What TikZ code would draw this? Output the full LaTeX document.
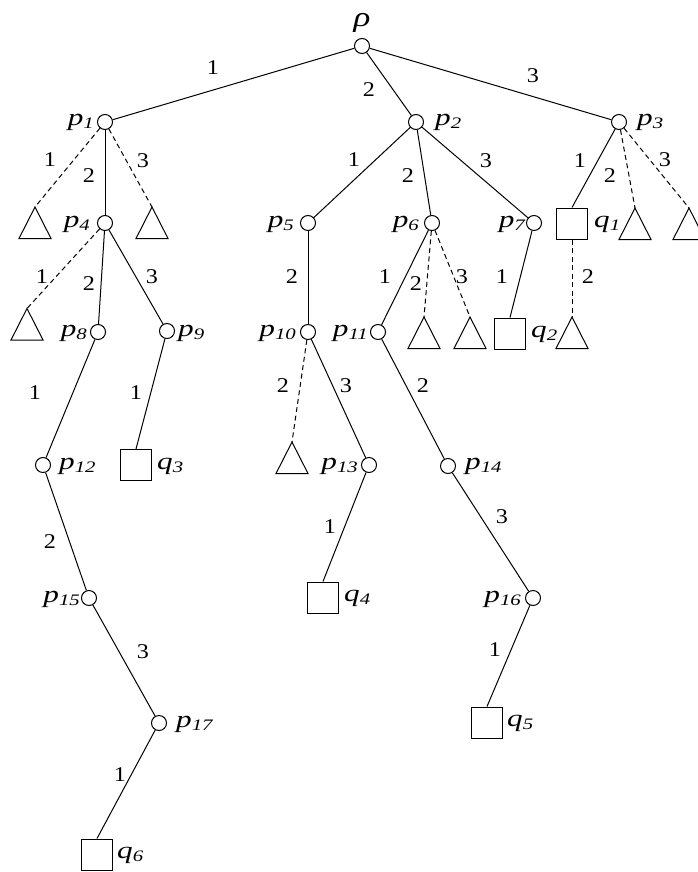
\documentclass[tikz,border=0pt]{standalone}
\usepackage{graphicx}
\usepackage{fontspec}
\setmainfont{Liberation Serif}
\newcommand\plab[2]{\scalebox{1.3}[1]{\itshape\fontsize{24}{24}\selectfont #1\raisebox{-3.5pt}{\fontsize{16}{16}\selectfont #2}}}
\newcommand\enum[1]{\scalebox{1.15}[1]{\fontsize{21}{21}\selectfont #1}}
\newcommand\mytri[3]{\coordinate (#1) at (#2,#3); \draw[shp] (#1) -- ++(-16,31.5) -- ++(32,0) -- cycle;}
\tikzset{
  shp/.style={line width=1pt, line join=miter},
  cnode/.style={circle, draw, line width=1pt, minimum size=15pt, inner sep=0pt},
  snode/.style={rectangle, draw, line width=1pt, minimum size=31pt, inner sep=0pt},
  edgeline/.style={line width=1pt},
  dedge/.style={line width=1pt, dash pattern=on 5pt off 3.5pt},
  elab/.style={inner sep=0pt},
  llab/.style={inner sep=0pt, anchor=base east},
  rlab/.style={inner sep=0pt, anchor=base west}
}
\begin{document}
\begin{tikzpicture}[x=1pt, y=-1pt]
\useasboundingbox (0,0) rectangle (697,872);
% circle nodes
\node[cnode] (rho) at (362,46) {};
\node[cnode] (p1) at (105,122) {};
\node[cnode] (p2) at (416,122) {};
\node[cnode] (p3) at (619,122) {};
\node[cnode] (p4) at (105,223) {};
\node[cnode] (p5) at (308,223) {};
\node[cnode] (p6) at (432,223) {};
\node[cnode] (p7) at (534,223) {};
\node[cnode] (p8) at (98,332) {};
\node[cnode] (p9) at (167,331) {};
\node[cnode] (p10) at (308,332) {};
\node[cnode] (p11) at (378,332) {};
\node[cnode] (p12) at (43,465) {};
\node[cnode] (p13) at (369,465) {};
\node[cnode] (p14) at (448,466) {};
\node[cnode] (p15) at (89,598) {};
\node[cnode] (p16) at (533,598) {};
\node[cnode] (p17) at (159,723) {};
% squares
\node[snode] (q1) at (572,223.5) {};
\node[snode] (q2) at (510,333.5) {};
\node[snode] (q3) at (136,465) {};
\node[snode] (q4) at (323,597.5) {};
\node[snode] (q5) at (487,722.5) {};
\node[snode] (q6) at (97,854.5) {};
% triangles
\mytri{t1}{35}{207}
\mytri{t2}{152}{207}
\mytri{t3}{27}{308.5}
\mytri{t4}{424}{317}
\mytri{t5}{470}{317}
\mytri{t6}{635}{208}
\mytri{t7}{689}{208}
\mytri{t8}{572}{317}
\mytri{t9}{292}{442}
% solid edges
\draw[edgeline] (rho) -- (p1);
\draw[edgeline] (rho) -- (p2);
\draw[edgeline] (rho) -- (p3);
\draw[edgeline] (p1) -- (p4);
\draw[edgeline] (p2) -- (p5);
\draw[edgeline] (p2) -- (p6);
\draw[edgeline] (p2) -- (p7);
\draw[edgeline] (p3) -- (q1.north);
\draw[edgeline] (p4) -- (p8);
\draw[edgeline] (p4) -- (p9);
\draw[edgeline] (p5) -- (p10);
\draw[edgeline] (p6) -- (p11);
\draw[edgeline] (p7) -- (q2.north);
\draw[edgeline] (p8) -- (p12);
\draw[edgeline] (p9) -- (q3.north);
\draw[edgeline] (p10) -- (p13);
\draw[edgeline] (p11) -- (p14);
\draw[edgeline] (p12) -- (p15);
\draw[edgeline] (p13) -- (q4.north);
\draw[edgeline] (p14) -- (p16);
\draw[edgeline] (p15) -- (p17);
\draw[edgeline] (p16) -- (q5.north);
\draw[edgeline] (p17) -- (q6.north);
% dashed edges
\draw[dedge] (p1) -- (t1);
\draw[dedge] (p1) -- (t2);
\draw[dedge] (p4) -- (t3);
\draw[dedge] (p6) -- (t4);
\draw[dedge] (p6) -- (t5);
\draw[dedge] (p3) -- (t6);
\draw[dedge] (p3) -- (t7);
\draw[dedge] (q1.south) -- (t8);
\draw[dedge] (p10) -- (t9);
% node labels
\node[inner sep=0pt, anchor=base] (Lrho) at (362,27) {\scalebox{1.25}[1]{\itshape\fontsize{28}{28}\selectfont ρ}};
\node[llab] (L1) at (94,125) {\plab{p}{1}};
\node[rlab] (L2) at (435,125) {\plab{p}{2}};
\node[rlab] (L3) at (637,125) {\plab{p}{3}};
\node[llab] (L4) at (90,227) {\plab{p}{4}};
\node[llab] (L5) at (294,227) {\plab{p}{5}};
\node[llab] (L6) at (419,227) {\plab{p}{6}};
\node[llab] (L7) at (525,227) {\plab{p}{7}};
\node[llab] (L8) at (87,336) {\plab{p}{8}};
\node[rlab] (L9) at (178,336) {\plab{p}{9}};
\node[llab] (L10) at (296,336) {\plab{p}{10}};
\node[llab] (L11) at (368,336) {\plab{p}{11}};
\node[rlab] (L12) at (59,469) {\plab{p}{12}};
\node[llab] (L13) at (358,469) {\plab{p}{13}};
\node[rlab] (L14) at (465,469) {\plab{p}{14}};
\node[llab] (L15) at (80,602) {\plab{p}{15}};
\node[llab] (L16) at (521,602) {\plab{p}{16}};
\node[rlab] (L17) at (176,727) {\plab{p}{17}};
\node[rlab] (M1) at (594,227) {\plab{q}{1}};
\node[rlab] (M2) at (531,337) {\plab{q}{2}};
\node[rlab] (M3) at (157,469) {\plab{q}{3}};
\node[rlab] (M4) at (344,601) {\plab{q}{4}};
\node[rlab] (M5) at (507,726) {\plab{q}{5}};
\node[rlab] (M6) at (117,858) {\plab{q}{6}};
% edge labels
\node[elab] (e1) at (213,68) {\enum{1}};
\node[elab] (e2) at (369,90) {\enum{2}};
\node[elab] (e3) at (533,76) {\enum{3}};
\node[elab] (e4) at (50,160) {\enum{1}};
\node[elab] (e5) at (89,176) {\enum{2}};
\node[elab] (e6) at (143,161) {\enum{3}};
\node[elab] (e7) at (354,160) {\enum{1}};
\node[elab] (e8) at (408,176) {\enum{2}};
\node[elab] (e9) at (486,161) {\enum{3}};
\node[elab] (e10) at (580,161) {\enum{1}};
\node[elab] (e11) at (610,176) {\enum{2}};
\node[elab] (e12) at (665,160) {\enum{3}};
\node[elab] (e13) at (42,277) {\enum{1}};
\node[elab] (e14) at (89,284) {\enum{2}};
\node[elab] (e15) at (152,277) {\enum{3}};
\node[elab] (e16) at (292,277) {\enum{2}};
\node[elab] (e17) at (385,277) {\enum{1}};
\node[elab] (e18) at (416,284) {\enum{2}};
\node[elab] (e19) at (462,277) {\enum{3}};
\node[elab] (e20) at (502,277) {\enum{1}};
\node[elab] (e21) at (588,277) {\enum{2}};
\node[elab] (e22) at (35,393) {\enum{1}};
\node[elab] (e23) at (136,393) {\enum{1}};
\node[elab] (e24) at (283,386) {\enum{2}};
\node[elab] (e25) at (346,386) {\enum{3}};
\node[elab] (e26) at (423,386) {\enum{2}};
\node[elab] (e27) at (50,542) {\enum{2}};
\node[elab] (e28) at (330,527) {\enum{1}};
\node[elab] (e29) at (502,517) {\enum{3}};
\node[elab] (e30) at (143,652) {\enum{3}};
\node[elab] (e31) at (495,650) {\enum{1}};
\node[elab] (e32) at (120,775) {\enum{1}};
\end{tikzpicture}
\end{document}
